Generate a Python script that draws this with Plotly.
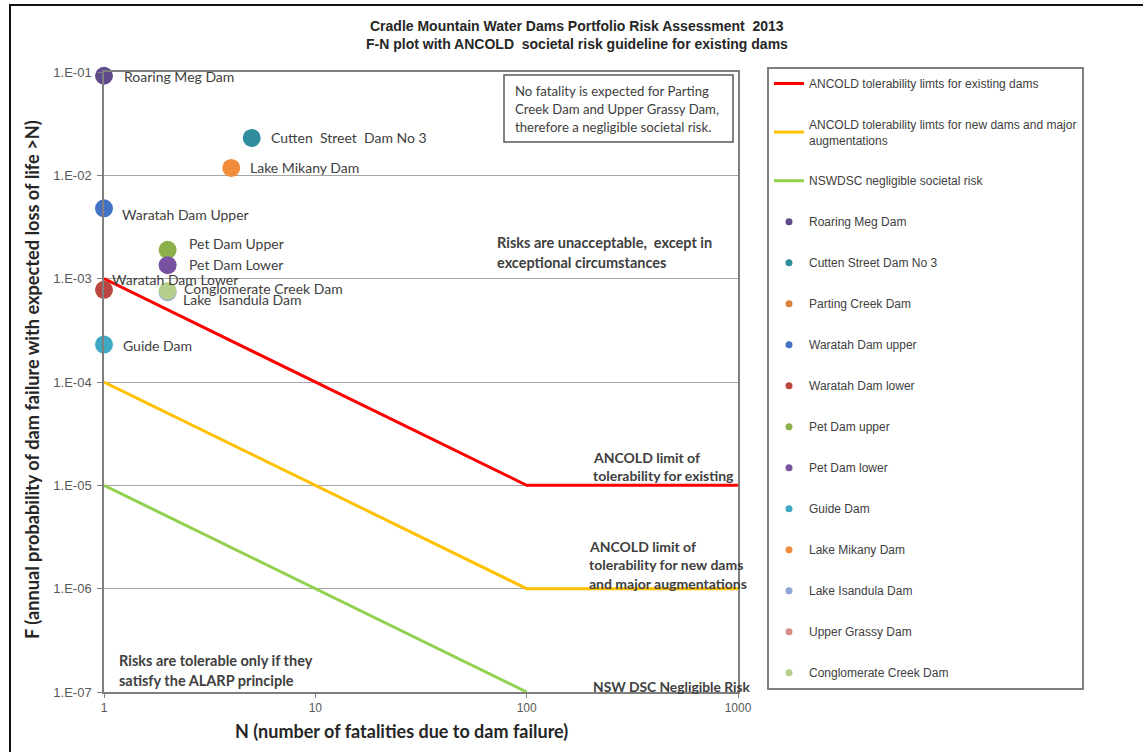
import math
import plotly.graph_objects as go

# ---- data -------------------------------------------------------------
# Guideline curves (N, F)
ancold_N = [1, 100, 1000]
ancold_existing_F = [1e-3, 1e-5, 1e-5]
ancold_new_F = [1e-4, 1e-6, 1e-6]
nswdsc_N = [1, 100]
nswdsc_F = [1e-5, 1e-7]

line_names = [
    "ANCOLD tolerability limts for existing dams",
    "ANCOLD tolerability limts for new dams and major<br>augmentations",
    "NSWDSC negligible societal risk",
]

# Dams (legend order); None = no expected fatality, nothing plotted
dam_legend = [
    "Roaring Meg Dam", "Cutten Street Dam No 3", "Parting Creek Dam",
    "Waratah Dam upper", "Waratah Dam lower", "Pet Dam upper",
    "Pet Dam lower", "Guide Dam", "Lake Mikany Dam", "Lake Isandula Dam",
    "Upper Grassy Dam", "Conglomerate Creek Dam",
]
dam_labels = [
    "Roaring Meg Dam", "Cutten  Street  Dam No 3", None,
    "Waratah Dam Upper", "Waratah Dam Lower", "Pet Dam Upper",
    "Pet Dam Lower", "Guide Dam", "Lake Mikany Dam", "Lake  Isandula Dam",
    None, "Conglomerate Creek Dam",
]
dam_N = [1, 5, None, 1, 1, 2, 2, 1, 4, 2, None, 2]
dam_F = [0.092, 0.023, None, 0.0048, 0.00078, 0.0019, 0.00135, 0.00023,
         0.0118, 0.00074, None, 0.00076]

y_tickvals = [1e-7, 1e-6, 1e-5, 1e-4, 1e-3, 1e-2, 1e-1]
y_ticktext = ["1.E-07", "1.E-06", "1.E-05", "1.E-04", "1.E-03", "1.E-02", "1.E-01"]
x_tickvals = [1, 10, 100, 1000]
x_ticktext = ["1", "10", "100", "1000"]

# ---- styling ----------------------------------------------------------
line_colors = ["#ff0000", "#ffc000", "#92d050"]
dam_colors = ["#5f4a8b", "#2f8d9c", "#d9823b", "#4472c4", "#b9473f",
              "#8cb14a", "#7851a0", "#3fa9c4", "#f08c3c", "#8ea5d6",
              "#d98c8c", "#b4cf8c"]
# label offsets in pixels (dx right, dy down) from each marker
label_offsets = [(18, 1), (17, 0), None, (16, 6), (6, -10), (19, -6),
                 (19, -1), (17, 1), (17, 0), (13, 7), None, (14, -2)]

W, H = 1143, 752
L, R, T, B = 104, 405, 72, 60
PW, PH = W - L - R, H - T - B


def px_x(p):
    return (p - L) / PW


def px_y(p):
    return (H - B - p) / PH


TXT = "#404040"
LABEL_FONT = "Lato, 'Open Sans', sans-serif"
SANS = "'Liberation Sans', Arial, sans-serif"

fig = go.Figure()

for name, N, F, col in zip(line_names,
                           [ancold_N, ancold_N, nswdsc_N],
                           [ancold_existing_F, ancold_new_F, nswdsc_F],
                           line_colors):
    fig.add_trace(go.Scatter(
        x=N, y=F, mode="lines", name=name, legendgroup=name,
        line=dict(color=col, width=3), hoverinfo="skip"))

# plotted markers (Conglomerate Creek drawn last so it sits on top)
order = sorted(range(len(dam_legend)),
               key=lambda i: 1 if dam_legend[i] == "Conglomerate Creek Dam" else 0)
for i in order:
    if dam_N[i] is None:
        continue
    fig.add_trace(go.Scatter(
        x=[dam_N[i]], y=[dam_F[i]], mode="markers", name=dam_legend[i],
        showlegend=False, cliponaxis=False,
        marker=dict(color=dam_colors[i], size=18, line=dict(width=0))))

# small legend swatches
for name, col in zip(dam_legend, dam_colors):
    fig.add_trace(go.Scatter(
        x=[None], y=[None], mode="markers", name=name, legendgroup=name,
        marker=dict(color=col, size=7)))

annotations = []
for lab, n, f, off in zip(dam_labels, dam_N, dam_F, label_offsets):
    if lab is None or n is None:
        continue
    annotations.append(dict(
        x=math.log10(n), y=math.log10(f), xref="x", yref="y", text=lab,
        showarrow=False, xanchor="left", yanchor="middle",
        xshift=off[0], yshift=-off[1],
        font=dict(family=LABEL_FONT, size=14, color=TXT)))


def text_block(lines, left, top_y, spacing, size, bold=True, color=TXT, family=LABEL_FONT):
    for i, ln in enumerate(lines):
        t = f"<b>{ln}</b>" if bold else ln
        annotations.append(dict(
            x=px_x(left), y=px_y(top_y + i * spacing), xref="paper", yref="paper",
            text=t, showarrow=False, xanchor="left", yanchor="middle",
            font=dict(family=family, size=size, color=color)))


text_block(["No fatality is expected for Parting",
            "Creek Dam and Upper Grassy Dam,",
            "therefore a negligible societal risk."], 513, 91, 18, 13.2, bold=False)
text_block(["Risks are unacceptable,  except in",
            "exceptional circumstances"], 495, 242, 20, 14.5)
text_block(["ANCOLD limit of", "tolerability for existing"], 591, 457, 18, 14)
text_block(["ANCOLD limit of", "tolerability for new dams",
            "and major augmentations"], 587, 546, 18.5, 14)
text_block(["NSW DSC Negligible Risk"], 591, 686, 18, 13.8)
text_block(["Risks are tolerable only if they",
            "satisfy the ALARP principle"], 117, 660, 20, 14.5)

# title
TITLE_FONT = "'Liberation Sans Narrow', 'Arial Narrow', 'Liberation Sans', Arial, sans-serif"
for txt, yy in [("Cradle Mountain Water Dams Portfolio Risk Assessment  2013", 26),
                ("F-N plot with ANCOLD  societal risk guideline for existing dams", 44)]:
    annotations.append(dict(
        x=px_x(577), y=px_y(yy), xref="paper", yref="paper", text=f"<b>{txt}</b>",
        showarrow=False, xanchor="center", yanchor="middle",
        font=dict(family=TITLE_FONT, size=14, color="#262626")))

# axis titles
annotations.append(dict(
    x=px_x(401), y=px_y(731), xref="paper", yref="paper",
    text="<b>N (number of fatalities due to dam failure)</b>",
    showarrow=False, xanchor="center", yanchor="middle",
    font=dict(family=LABEL_FONT, size=18, color="#262626")))
annotations.append(dict(
    x=px_x(32), y=px_y(380), xref="paper", yref="paper",
    text="<b>F (annual probability of dam failure with expected loss of life >N)</b>",
    showarrow=False, xanchor="center", yanchor="middle", textangle=-90,
    font=dict(family=LABEL_FONT, size=18.2, color="#262626")))

shapes = [
    # note box
    dict(type="rect", xref="paper", yref="paper",
         x0=px_x(504), x1=px_x(733), y0=px_y(142), y1=px_y(75),
         line=dict(color="#595959", width=1.5), fillcolor="rgba(0,0,0,0)"),
    # outer frame
    dict(type="rect", xref="paper", yref="paper",
         x0=px_x(10), x1=px_x(1200), y0=px_y(800), y1=px_y(5),
         line=dict(color="#111111", width=2), fillcolor="rgba(0,0,0,0)"),
]

fig.update_layout(
    width=W, height=H,
    margin=dict(l=L, r=R, t=T, b=B, autoexpand=False),
    paper_bgcolor="white", plot_bgcolor="white",
    showlegend=True,
    legend=dict(
        x=px_x(767), y=px_y(67), xanchor="left", yanchor="top",
        bordercolor="#7f7f7f", borderwidth=2, bgcolor="white",
        font=dict(family=SANS, size=12, color=TXT),
        traceorder="grouped", tracegroupgap=22, itemwidth=30,
        maxheight=720,
    ),
    xaxis=dict(
        type="log", range=[0, 3], tickvals=x_tickvals, ticktext=x_ticktext,
        showgrid=False, zeroline=False, showline=True, mirror=True,
        linecolor="#7f7f7f", linewidth=1.5, ticks="outside", ticklen=4,
        tickcolor="#7f7f7f",
        tickfont=dict(family=SANS, size=12, color="#595959")),
    yaxis=dict(
        type="log", range=[-7, -1], tickvals=y_tickvals, ticktext=y_ticktext,
        showgrid=True, gridcolor="#a6a6a6", gridwidth=1, zeroline=False,
        showline=True, mirror=True, linecolor="#7f7f7f", linewidth=1.5,
        ticks="outside", ticklen=5, tickcolor="#7f7f7f", ticklabelstandoff=3,
        tickfont=dict(family=SANS, size=13, color="#595959")),
    annotations=annotations,
    shapes=shapes,
)

fig.write_html("out.html")
